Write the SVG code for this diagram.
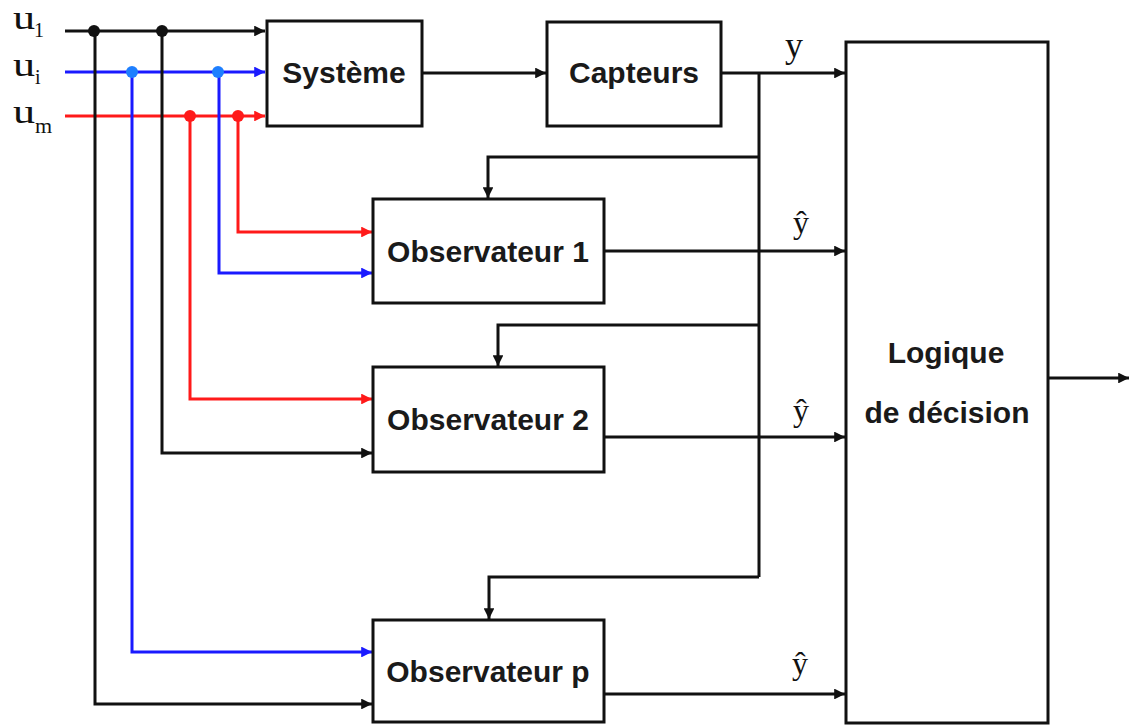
<svg xmlns="http://www.w3.org/2000/svg" width="1129" height="726" viewBox="0 0 1129 726">
<style>
.box{fill:#fff;stroke:#111;stroke-width:3}
.lbl{font-family:"Liberation Sans",Arial,sans-serif;font-weight:bold;font-size:30px;fill:#1a1a1a;text-anchor:middle}
.ser{font-family:"Liberation Serif","Times New Roman",serif;fill:#111}
.k{fill:none;stroke:#111;stroke-width:3}
.b{fill:none;stroke:#1a1aff;stroke-width:3}
.r{fill:none;stroke:#ff1a1a;stroke-width:3}
</style>
<defs>
<marker id="ak" viewBox="0 0 10 10" refX="10" refY="5" markerWidth="4.2" markerHeight="3.6" markerUnits="strokeWidth" orient="auto"><path d="M0,0L10,5L0,10z" fill="#111"/></marker>
<marker id="ab" viewBox="0 0 10 10" refX="10" refY="5" markerWidth="4.2" markerHeight="3.6" markerUnits="strokeWidth" orient="auto"><path d="M0,0L10,5L0,10z" fill="#1a1aff"/></marker>
<marker id="ar" viewBox="0 0 10 10" refX="10" refY="5" markerWidth="4.2" markerHeight="3.6" markerUnits="strokeWidth" orient="auto"><path d="M0,0L10,5L0,10z" fill="#ff1a1a"/></marker>
</defs>
<rect width="1129" height="726" fill="#fff"/>
<g id="inputs-labels">
<text class="ser" font-size="34" transform="translate(13,29) scale(1.3,1)">u</text>
<text class="ser" font-size="20" x="34" y="37">1</text>
<text class="ser" font-size="34" transform="translate(13,76) scale(1.3,1)">u</text>
<text class="ser" font-size="20" x="35" y="84">i</text>
<text class="ser" font-size="34" transform="translate(13,123) scale(1.3,1)">u</text>
<text class="ser" font-size="20" transform="translate(35,133) scale(1.1,1)">m</text>
</g>
<g id="connectors">
<path class="k" d="M65,31H265" marker-end="url(#ak)"/>
<path class="b" d="M65,72H265" marker-end="url(#ab)"/>
<path class="r" d="M65,116H265" marker-end="url(#ar)"/>
<path class="k" d="M95,31V704H372" marker-end="url(#ak)"/>
<path class="k" d="M162,31V453H372" marker-end="url(#ak)"/>
<path class="b" d="M132,72V652H372" marker-end="url(#ab)"/>
<path class="b" d="M219,72V273H372" marker-end="url(#ab)"/>
<path class="r" d="M190,116V399H372" marker-end="url(#ar)"/>
<path class="r" d="M238,116V232H372" marker-end="url(#ar)"/>
<path class="k" d="M422,73H546" marker-end="url(#ak)"/>
<path class="k" d="M721,73H845" marker-end="url(#ak)"/>
<path class="k" d="M759,73V577"/>
<path class="k" d="M759,157H488V198" marker-end="url(#ak)"/>
<path class="k" d="M759,325H498V366" marker-end="url(#ak)"/>
<path class="k" d="M759,577H489V619" marker-end="url(#ak)"/>
<path class="k" d="M604,251H845" marker-end="url(#ak)"/>
<path class="k" d="M604,437H845" marker-end="url(#ak)"/>
<path class="k" d="M604,694H845" marker-end="url(#ak)"/>
<path class="k" d="M1048,378H1129" marker-end="url(#ak)"/>
<circle cx="94" cy="31" r="6" fill="#111"/>
<circle cx="162" cy="31" r="6" fill="#111"/>
<circle cx="132" cy="72" r="6" fill="#1e7fff"/>
<circle cx="218" cy="72" r="6" fill="#1e7fff"/>
<circle cx="190" cy="116" r="6" fill="#ff1a1a"/>
<circle cx="238" cy="116" r="6" fill="#ff1a1a"/>
<text class="ser" font-size="36" x="785" y="57">y</text>
<text class="ser" font-size="32" x="801" y="233" text-anchor="middle">ŷ</text>
<text class="ser" font-size="32" x="801" y="421" text-anchor="middle">ŷ</text>
<text class="ser" font-size="32" x="800" y="674" text-anchor="middle">ŷ</text>
</g>
<g id="systeme"><rect class="box" x="267" y="21" width="155" height="105"/><text class="lbl" x="344" y="83">Système</text></g>
<g id="capteurs"><rect class="box" x="547" y="22" width="174" height="104"/><text class="lbl" x="634" y="83">Capteurs</text></g>
<g id="obs1"><rect class="box" x="373" y="199" width="231" height="104"/><text class="lbl" x="488" y="262">Observateur 1</text></g>
<g id="obs2"><rect class="box" x="373" y="367" width="231" height="105"/><text class="lbl" x="488" y="430">Observateur 2</text></g>
<g id="obsp"><rect class="box" x="373" y="620" width="231" height="102"/><text class="lbl" x="488" y="682">Observateur p</text></g>
<g id="logique"><rect class="box" x="846" y="42" width="202" height="681"/><text class="lbl" x="946" y="363">Logique</text><text class="lbl" x="947" y="423">de décision</text></g>
</svg>
